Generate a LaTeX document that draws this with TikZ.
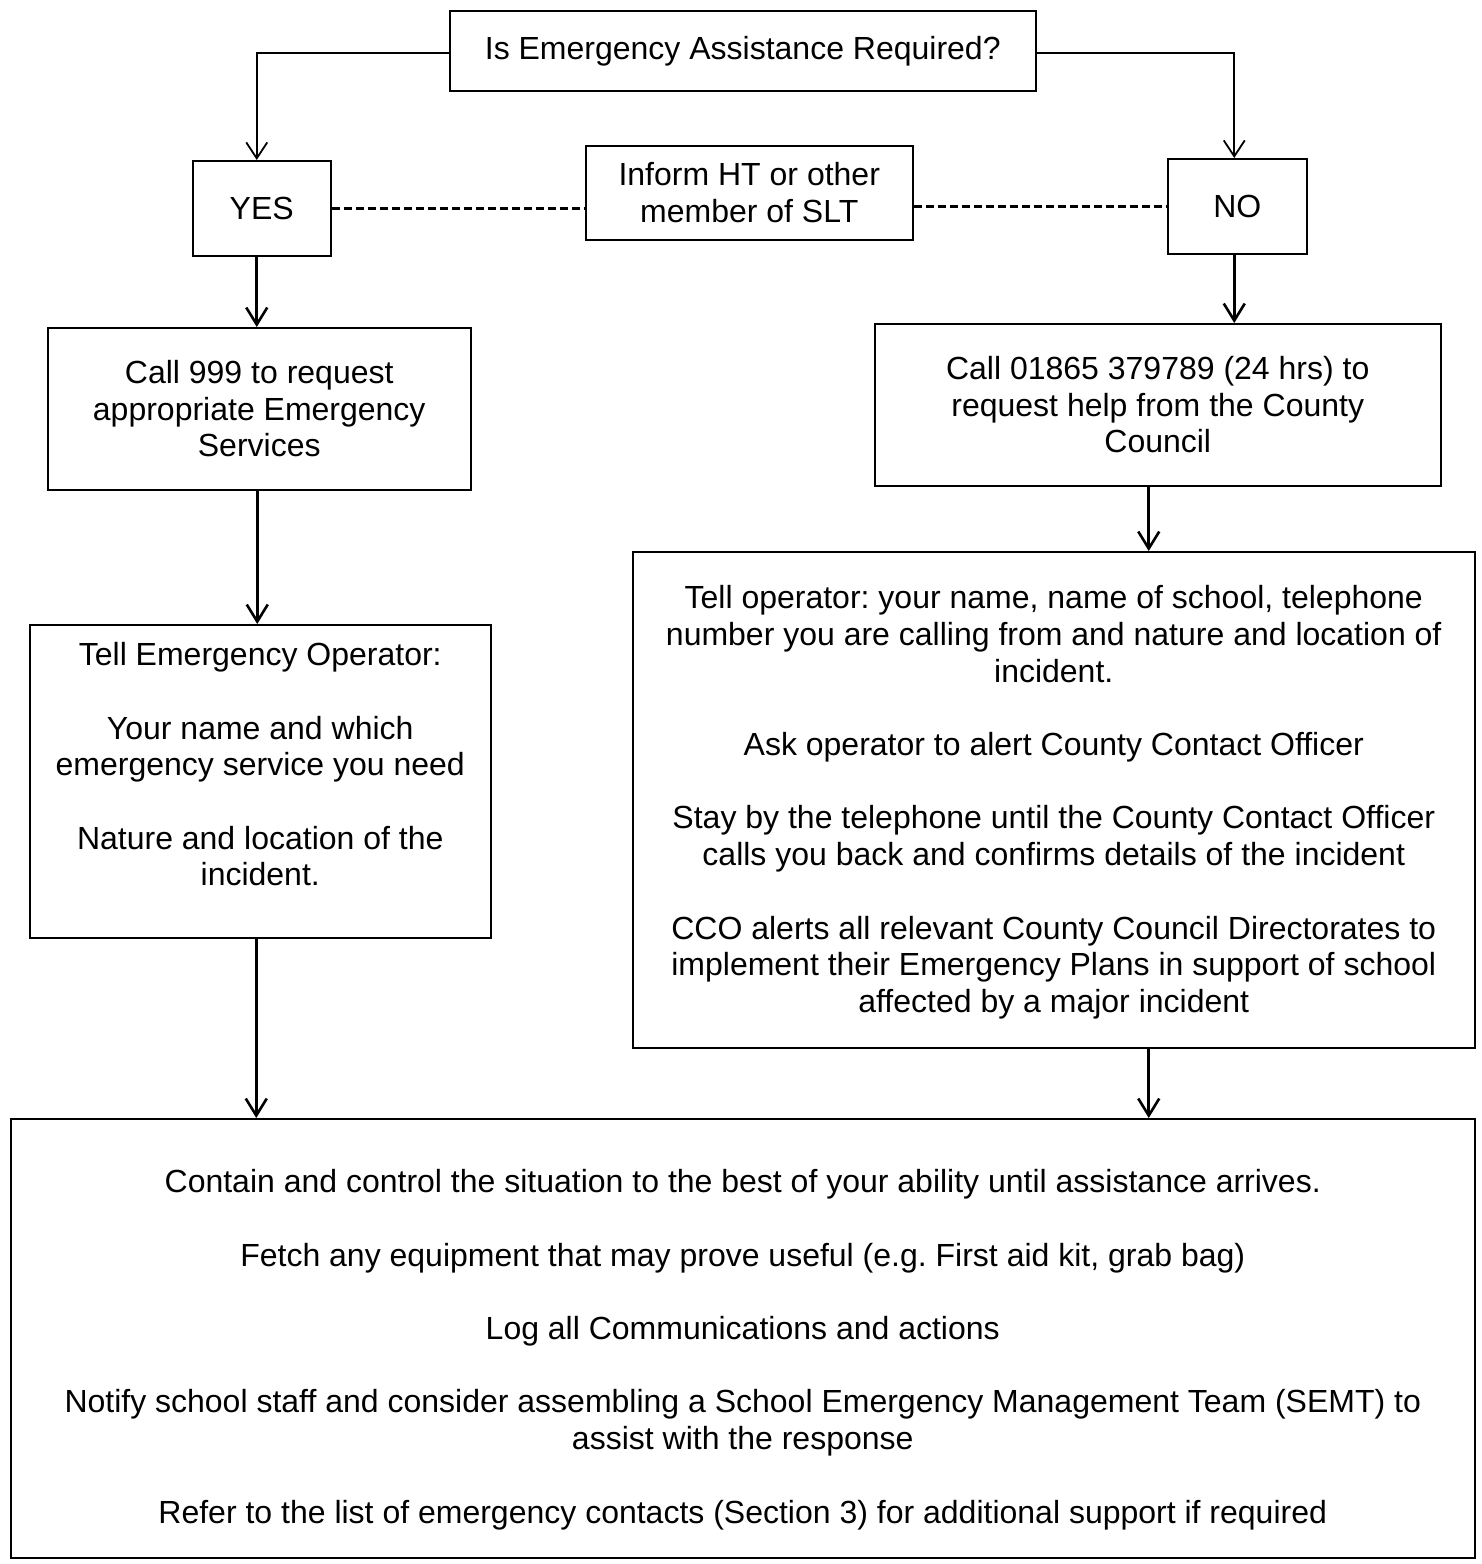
\documentclass[tikz,border=0pt]{standalone}
\usepackage{fontspec}
\setmainfont{Liberation Sans}
\usetikzlibrary{arrows.meta}
\frenchspacing
\newcommand\bxt[4]{\parbox[c][#2][t]{#1}{\centering\vspace*{#3}\strut #4}}
\begin{document}
\begin{tikzpicture}[x=1pt,y=-1pt,
  every node/.style={font=\fontsize{32}{36.7}\selectfont},
  box/.style={draw, line width=1.5pt, inner sep=0pt, align=center, anchor=north west},
  tbox/.style={draw, line width=1.5pt, inner sep=0pt, anchor=north west},
  conn/.style={line width=1.8pt, -{Straight Barb[length=16pt,width=21pt]}},
  down/.style={line width=2.6pt, -{Straight Barb[length=17pt,width=21pt]}},
  dsh/.style={line width=2.6pt, dash pattern=on 8pt off 4pt}]
\useasboundingbox (0,0) rectangle (1481,1564);

\node[box, minimum width=586pt, minimum height=80pt] (top) at (449,10) {Is Emergency Assistance Required?};
\node[box, minimum width=138pt, minimum height=95pt] (yes) at (192,160) {YES};
\node[box, minimum width=139pt, minimum height=95pt] (no) at (1167,158) {NO};
\node[box, minimum width=327pt, minimum height=94pt] (inform) at (585,145) {Inform HT or other\\member of SLT};
\node[box, minimum width=423pt, minimum height=162pt] (c999) at (47,327) {Call 999 to request\\appropriate Emergency\\Services};
\node[box, minimum width=566pt, minimum height=162pt] (c018) at (874,323) {Call 01865 379789 (24 hrs) to\\request help from the County\\Council};
\node[tbox] (tellE) at (29,624) {\bxt{461pt}{313pt}{15.3pt}{Tell Emergency Operator:\\[36.7pt]Your name and which\\emergency service you need\\[36.7pt]Nature and location of the\\incident.}};
\node[tbox] (tellO) at (632,551) {\bxt{842pt}{496pt}{31.3pt}{Tell operator: your name, name of school, telephone\\number you are calling from and nature and location of\\incident.\\[36.7pt]Ask operator to alert County Contact Officer\\[36.7pt]Stay by the telephone until the County Contact Officer\\calls you back and confirms details of the incident\\[36.7pt]CCO alerts all relevant County Council Directorates to\\implement their Emergency Plans in support of school\\affected by a major incident}};
\node[tbox] (bottom) at (10,1118) {\bxt{1464pt}{439pt}{48.3pt}{Contain and control the situation to the best of your ability until assistance arrives.\\[36.7pt]Fetch any equipment that may prove useful (e.g. First aid kit, grab bag)\\[36.7pt]Log all Communications and actions\\[36.7pt]Notify school staff and consider assembling a School Emergency Management Team (SEMT) to\\assist with the response\\[36.7pt]Refer to the list of emergency contacts (Section 3) for additional support if required}};

\draw[conn] ([yshift=-2]top.west) -| ([xshift=-5]yes.north);
\draw[conn] ([yshift=-2]top.east) -| ([xshift=-3]no.north);
\draw[dsh] (yes.east) -- (yes.east -| inform.west);
\draw[dsh] (inform.east |- no.west) -- (no.west);
\draw[down] ([xshift=-5]yes.south) -- ([xshift=-5]yes.south |- c999.north);
\draw[down] ([xshift=-3]no.south) -- ([xshift=-3]no.south |- c018.north);
\draw[down] ([xshift=-2]c999.south) -- ([xshift=-2]c999.south |- tellE.north);
\draw[down] ([xshift=-9]c018.south) -- ([xshift=-9]c018.south |- tellO.north);
\draw[down] ([xshift=-4]tellE.south) -- ([xshift=-4]tellE.south |- bottom.north);
\draw[down] ([xshift=95]tellO.south) -- ([xshift=95]tellO.south |- bottom.north);
\end{tikzpicture}
\end{document}
